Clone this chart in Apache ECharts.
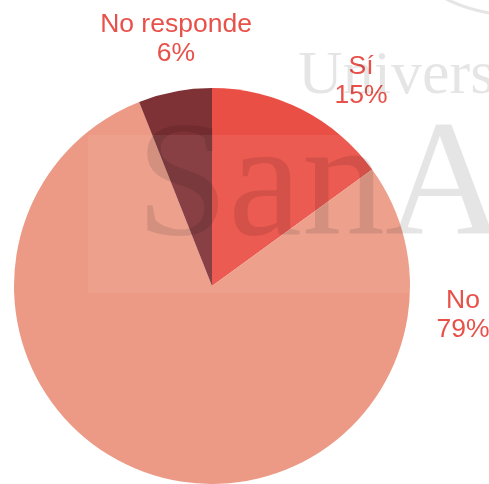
<!DOCTYPE html>
<html>
<head>
<meta charset="utf-8">
<script src="https://cdn.jsdelivr.net/npm/echarts@6/dist/echarts.min.js"></script>
<style>html,body{margin:0;padding:0;background:#fff;}#c{width:489px;height:484px;}</style>
</head>
<body>
<div id="c"></div>
<script>
var categories = ['Sí', 'No', 'No responde'];
var values = [15, 79, 6];
var colors = ['#EA4F45', '#EC9A85', '#7F3236'];
var labelPos = [[361, 81], [463, 315], [176, 39]];

var chart = echarts.init(document.getElementById('c'));
chart.setOption({
  animation: false,
  series: [{
    type: 'pie',
    center: [212, 286],
    radius: [0, 198],
    startAngle: 90,
    clockwise: true,
    data: categories.map(function (c, i) {
      return { name: c, value: values[i], itemStyle: { color: colors[i] } };
    }),
    label: {
      show: true,
      position: 'outside',
      formatter: '{b}\n{d}%',
      color: '#E8514A',
      fontFamily: 'Liberation Sans, Arial, sans-serif',
      fontSize: 26.5,
      lineHeight: 29,
      align: 'center',
      overflow: 'none',
      width: 200
    },
    labelLine: { show: false },
    labelLayout: function (p) {
      var pos = labelPos[p.dataIndex];
      return { x: pos[0], y: pos[1], align: 'center', verticalAlign: 'middle' };
    },
    emphasis: { disabled: true }
  }],
  graphic: [
    { type: 'rect', shape: { x: 88, y: 135, width: 324, height: 158 }, style: { fill: 'rgba(255,255,255,0.07)' }, z: 10, silent: true },
    { type: 'text', x: 298, y: 46, style: { text: 'Univers', font: '62px "Liberation Serif", serif', fill: 'rgba(0,0,0,0.1)' }, z: 10, silent: true },
    { type: 'text', x: 136, y: 107, style: { text: 'SanA', font: '166px "Liberation Serif", serif', fill: 'rgba(0,0,0,0.1)' }, z: 10, silent: true },
    { type: 'ellipse', shape: { cx: 535, cy: -40, rx: 122, ry: 57 }, style: { fill: 'none', stroke: 'rgba(0,0,0,0.1)', lineWidth: 3 }, z: 10, silent: true }
  ]
});
</script>
</body>
</html>
